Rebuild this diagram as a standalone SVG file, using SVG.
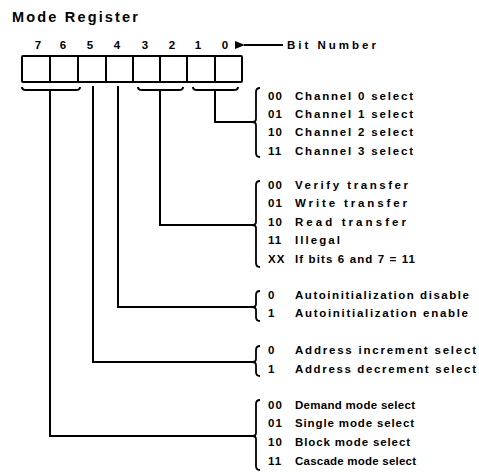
<svg xmlns="http://www.w3.org/2000/svg" width="479" height="472" viewBox="0 0 479 472">
<style>
text{font-family:"Liberation Sans",Arial,sans-serif;font-weight:bold;fill:#000}
.t{font-size:14.5px}
.n{font-size:11.5px;text-anchor:middle}
.c{font-size:11.5px;letter-spacing:1px}
.d{font-size:11.5px}
.ln{fill:none;stroke:#000;stroke-width:2;stroke-linejoin:miter}
.br{fill:none;stroke:#000;stroke-width:1.8}
</style>
<defs>
<marker id="ah" markerWidth="10" markerHeight="8" refX="1" refY="4" orient="auto" markerUnits="userSpaceOnUse">
<path d="M0 4 L10 0 L10 8 Z" fill="#000"/>
</marker>
</defs>
<g id="title"><text class="t" x="12" y="22" textLength="126" lengthAdjust="spacing">Mode Register</text></g>
<g id="register">
<rect x="22" y="56" width="220" height="26" class="ln" rx="1"/>
<path class="ln" d="M50 56V82M78 56V82M106 56V82M133 56V82M160 56V82M187 56V82M215 56V82" stroke-width="1.6"/>
<text class="n" x="38" y="49">7</text>
<text class="n" x="63" y="49">6</text>
<text class="n" x="90" y="49">5</text>
<text class="n" x="117" y="49">4</text>
<text class="n" x="145" y="49">3</text>
<text class="n" x="172" y="49">2</text>
<text class="n" x="198" y="49">1</text>
<text class="n" x="225" y="49">0</text>
</g>
<g id="bitnumber">
<line x1="283" y1="45" x2="244" y2="45" stroke="#000" stroke-width="2" marker-end="url(#ah)"/>
<text x="287" y="49" font-size="11.5" textLength="89" lengthAdjust="spacing">Bit Number</text>
</g>
<g id="connectors">
<path class="ln" d="M22 87Q22 90 26 90H76Q80 90 80 87"/>
<path class="ln" d="M138 87Q138 90 142 90H179Q183 90 183 87"/>
<path class="ln" d="M193 87Q193 90 197 90H234Q238 90 238 87"/>
<path class="ln" d="M215 90V122H252"/>
<path class="ln" d="M160 90V225H252"/>
<path class="ln" d="M118 86V307H252"/>
<path class="ln" d="M93 86V362H252"/>
<path class="ln" d="M50 90V436H252"/>
</g>
<g id="channel">
<path class="br" d="M260 88Q256 88 256 92V119Q256 122 252 122Q256 122 256 125V153Q256 157 260 157"/>
<text class="c" x="268" y="100">00</text><text class="d" x="295" y="100" textLength="118" lengthAdjust="spacing">Channel 0 select</text>
<text class="c" x="268" y="118">01</text><text class="d" x="295" y="118" textLength="118" lengthAdjust="spacing">Channel 1 select</text>
<text class="c" x="268" y="136">10</text><text class="d" x="295" y="136" textLength="118" lengthAdjust="spacing">Channel 2 select</text>
<text class="c" x="268" y="155">11</text><text class="d" x="295" y="155" textLength="118" lengthAdjust="spacing">Channel 3 select</text>
</g>
<g id="transfer">
<path class="br" d="M260 181Q256 181 256 185V222Q256 225 252 225Q256 225 256 228V263Q256 267 260 267"/>
<text class="c" x="268" y="189">00</text><text class="d" x="295" y="189" textLength="113" lengthAdjust="spacing">Verify transfer</text>
<text class="c" x="268" y="207">01</text><text class="d" x="295" y="207" textLength="112" lengthAdjust="spacing">Write transfer</text>
<text class="c" x="268" y="226">10</text><text class="d" x="295" y="226" textLength="111" lengthAdjust="spacing">Read transfer</text>
<text class="c" x="268" y="244">11</text><text class="d" x="295" y="244" textLength="45" lengthAdjust="spacing">Illegal</text>
<text class="c" x="268" y="263">XX</text><text class="d" x="295" y="263" textLength="120" lengthAdjust="spacing">If bits 6 and 7 = 11</text>
</g>
<g id="autoinit">
<path class="br" d="M260 291Q256 291 256 295V304Q256 307 252 307Q256 307 256 310V317Q256 321 260 321"/>
<text class="c" x="268" y="299">0</text><text class="d" x="295" y="299" textLength="174" lengthAdjust="spacing">Autoinitialization disable</text>
<text class="c" x="268" y="317">1</text><text class="d" x="295" y="317" textLength="173" lengthAdjust="spacing">Autoinitialization enable</text>
</g>
<g id="address">
<path class="br" d="M260 346Q256 346 256 350V359Q256 362 252 362Q256 362 256 365V372Q256 376 260 376"/>
<text class="c" x="268" y="354">0</text><text class="d" x="295" y="354" textLength="181" lengthAdjust="spacing">Address increment select</text>
<text class="c" x="268" y="373">1</text><text class="d" x="295" y="373" textLength="181" lengthAdjust="spacing">Address decrement select</text>
</g>
<g id="mode">
<path class="br" d="M260 400Q256 400 256 404V433Q256 436 252 436Q256 436 256 439V466Q256 470 260 470"/>
<text class="c" x="268" y="409">00</text><text class="d" x="295" y="409" textLength="120" lengthAdjust="spacing">Demand mode select</text>
<text class="c" x="268" y="427">01</text><text class="d" x="295" y="427" textLength="119" lengthAdjust="spacing">Single mode select</text>
<text class="c" x="268" y="446">10</text><text class="d" x="295" y="446" textLength="115" lengthAdjust="spacing">Block mode select</text>
<text class="c" x="268" y="465">11</text><text class="d" x="295" y="465" textLength="121" lengthAdjust="spacing">Cascade mode select</text>
</g>
</svg>
